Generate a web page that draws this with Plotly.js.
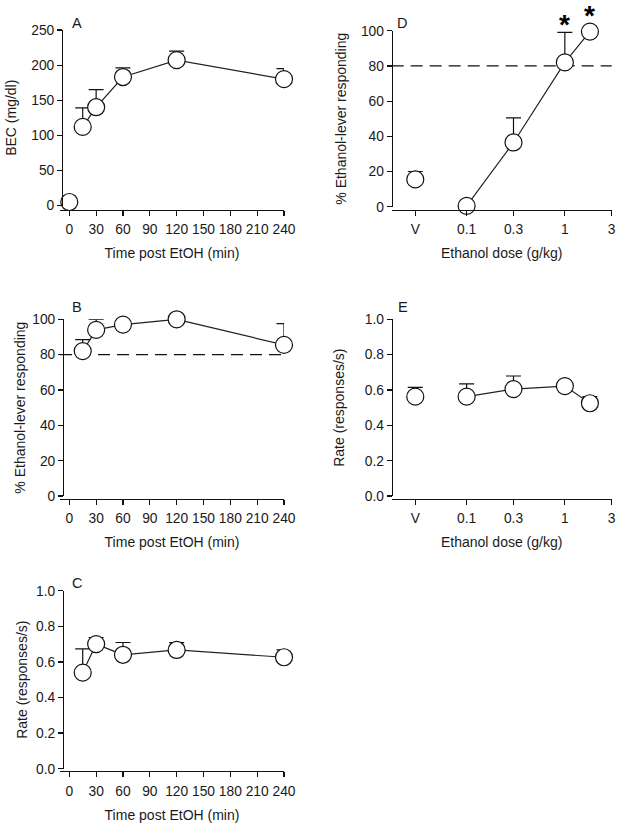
<!DOCTYPE html>
<html>
<head>
<meta charset="utf-8">
<script src="https://cdn.plot.ly/plotly-3.0.1.min.js"></script>
<style>html,body{margin:0;padding:0;background:#fff;}#chart{width:620px;height:826px;}</style>
</head>
<body>
<div id="chart"></div>
<script>
// ---- Data ----
// Panel A: blood ethanol concentration vs time
var timeA = [0, 15, 30, 60, 120, 240];
var becMean = [5, 112, 140, 183, 207, 180];
var becSem = [0, 27, 25, 13, 13, 15];
// Panel B: % ethanol-lever responding vs time
var timeB = [15, 30, 60, 120, 240];
var pctTimeMean = [82, 94, 97, 100, 85.5];
var pctTimeSem = [6.5, 6, 1.5, 0, 12];
// Panel C: response rate vs time
var rateTimeMean = [0.54, 0.70, 0.64, 0.667, 0.626];
var rateTimeSem = [0.133, 0.037, 0.069, 0.041, 0.041];
// Panels D & E: dose-effect (V = vehicle)
var doses = [0.03, 0.1, 0.3, 1, 1.8];
var pctDoseMean = [15.5, 0.5, 36.5, 82, 99.5];
var pctDoseSem = [4.5, 0, 14, 17, 0];
var rateDoseMean = [0.562, 0.562, 0.605, 0.622, 0.525];
var rateDoseSem = [0.053, 0.072, 0.074, 0.01, 0.037];
var significantDoses = [1, 1.8];
// Tick labels
var timeTicks = [0, 30, 60, 90, 120, 150, 180, 210, 240];
var doseTicks = [0.03, 0.1, 0.3, 1, 3];
var doseTickText = ['V', '0.1', '0.3', '1', '3'];
var criterion = 80;

// ---- Styling helpers ----
var FONT = 'Liberation Sans, Arial, sans-serif';
var TXT = '#1a1a1a';
var MSIZE = 17;
function zeros(n){ var a=[]; for(var i=0;i<n;i++) a.push(0); return a; }

function lineTrace(x, y, xa, ya){
  return {x:x, y:y, xaxis:xa, yaxis:ya, mode:'lines', type:'scatter',
    line:{color:'#222', width:1.2}, hoverinfo:'skip', showlegend:false, cliponaxis:false};
}
function markerTrace(x, y, e, xa, ya){
  return {x:x, y:y, xaxis:xa, yaxis:ya, mode:'markers', type:'scatter',
    marker:{size:MSIZE, color:'#fff', line:{color:'#111', width:1.2}},
    error_y:{type:'data', symmetric:false, array:e, arrayminus:zeros(e.length),
      color:'#111', thickness:1.2, width:7.5},
    showlegend:false, cliponaxis:false};
}

var traces = [
  lineTrace(timeA.slice(1), becMean.slice(1), 'x', 'y'),
  markerTrace(timeA, becMean, becSem, 'x', 'y'),
  lineTrace(timeB, pctTimeMean, 'x2', 'y2'),
  markerTrace(timeB, pctTimeMean, pctTimeSem, 'x2', 'y2'),
  lineTrace(timeB, rateTimeMean, 'x3', 'y3'),
  markerTrace(timeB, rateTimeMean, rateTimeSem, 'x3', 'y3'),
  lineTrace(doses.slice(1), pctDoseMean.slice(1), 'x4', 'y4'),
  markerTrace(doses, pctDoseMean, pctDoseSem, 'x4', 'y4'),
  lineTrace(doses.slice(1), rateDoseMean.slice(1), 'x5', 'y5'),
  markerTrace(doses, rateDoseMean, rateDoseSem, 'x5', 'y5')
];

var TICKFONT = {family:FONT, size:13.8, color:TXT};
var TITLEFONT = {family:FONT, size:14, color:TXT};
function axisBase(){
  return {anchor:'free', showline:true, linecolor:'#111', linewidth:1.2,
    ticks:'outside', ticklen:5, tickwidth:1.2, tickcolor:'#111', showgrid:false, zeroline:false,
    tickfont:TICKFONT, fixedrange:true};
}
function xAxis(base, opts, title){
  var a = axisBase();
  for (var k in base) a[k]=base[k];
  for (var k2 in opts) a[k2]=opts[k2];
  a.ticklabelstandoff = 2;
  a.title = {text:title, font:TITLEFONT, standoff:12};
  return a;
}
function yAxis(opts, title, standoff){
  var a = axisBase();
  for (var k in opts) a[k]=opts[k];
  a.title = {text:title, font:TITLEFONT, standoff:standoff};
  return a;
}
function px(v){ return v/620; }
function py(v){ return 1 - v/826; }

var timeX = {range:[-10.4, 240], tickvals:timeTicks, domain:[px(60), px(284)]};
var doseX = {type:'log', range:[-1.763, 0.477], tickvals:doseTicks, ticktext:doseTickText, domain:[px(391.7), px(611.7)]};

var layout = {
  width:620, height:826, paper_bgcolor:'#fff', plot_bgcolor:'rgba(0,0,0,0)',
  margin:{l:0, r:0, t:0, b:0}, showlegend:false,
  font:{family:FONT, color:TXT},
  xaxis: xAxis(timeX, {position:py(209.5)}, 'Time post EtOH (min)'),
  yaxis: yAxis({range:[0,250], tickvals:[0,50,100,150,200,250], domain:[py(205.5), py(30)], position:px(62)}, 'BEC (mg/dl)', 10),
  xaxis2: xAxis(timeX, {position:py(498.5)}, 'Time post EtOH (min)'),
  yaxis2: yAxis({range:[0,100], tickvals:[0,20,40,60,80,100], domain:[py(496), py(319.3)], position:px(63)}, '% Ethanol-lever responding', 2),
  xaxis3: xAxis(timeX, {position:py(771)}, 'Time post EtOH (min)'),
  yaxis3: yAxis({range:[0,1], tickvals:[0,0.2,0.4,0.6,0.8,1], tickformat:'.1f', domain:[py(768.7), py(590.7)], position:px(63)}, 'Rate (responses/s)', 4),
  xaxis4: xAxis(doseX, {position:py(209.5)}, 'Ethanol dose (g/kg)'),
  yaxis4: yAxis({range:[0,100], tickvals:[0,20,40,60,80,100], domain:[py(206.7), py(30.7)], position:px(391.7)}, '% Ethanol-lever responding', 9),
  xaxis5: xAxis(doseX, {position:py(498.5)}, 'Ethanol dose (g/kg)'),
  yaxis5: yAxis({range:[0,1], tickvals:[0,0.2,0.4,0.6,0.8,1], tickformat:'.1f', domain:[py(496), py(319.3)], position:px(391.7)}, 'Rate (responses/s)', 15),
  shapes: [
    {type:'line', layer:'below', xref:'x2 domain', x0:0, x1:1, yref:'y2', y0:criterion, y1:criterion,
      line:{color:'#111', width:1.2, dash:'12px,7px'}},
    {type:'line', layer:'below', xref:'x4 domain', x0:0, x1:1, yref:'y4', y0:criterion, y1:criterion,
      line:{color:'#111', width:1.2, dash:'12px,7px'}}
  ],
  annotations: []
};

// Panel letters
var letters = [['A',77,23],['B',77,306.7],['C',77,583.3],['D',402,23],['E',403,306.7]];
letters.forEach(function(l){
  layout.annotations.push({text:l[0], xref:'paper', yref:'paper', x:px(l[1]), y:py(l[2]),
    xanchor:'center', yanchor:'middle', showarrow:false, font:{family:FONT, size:14.5, color:TXT}});
});
// Significance asterisks: placed above the error bar or, if shorter, above the marker
var dPxPerUnit = 176 / 100;
significantDoses.forEach(function(d){
  var i = doses.indexOf(d);
  var semPx = pctDoseSem[i] * dPxPerUnit;
  var extra = Math.max(0, MSIZE/2 - semPx);
  layout.annotations.push({text:'<b>*</b>', xref:'x4', yref:'y4', x:Math.log10(d), y:pctDoseMean[i]+pctDoseSem[i],
    xanchor:'center', yanchor:'bottom', yshift:-10 + extra, showarrow:false, font:{family:FONT, size:28, color:'#000'}});
});

Plotly.newPlot('chart', traces, layout, {staticPlot:true});
</script>
</body>
</html>
